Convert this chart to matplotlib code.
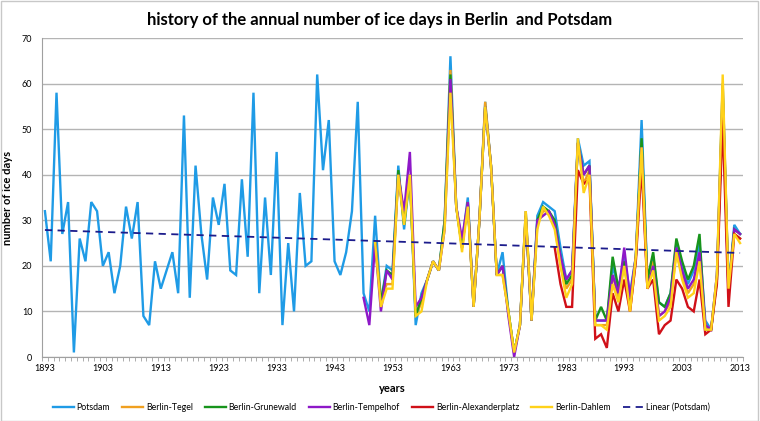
import numpy as np
import matplotlib.pyplot as plt
from matplotlib.patches import Rectangle

plt.rcParams['font.family'] = ['Lato', 'DejaVu Sans']

# annual number of ice days
potsdam_years = np.arange(1893, 2014)
potsdam = [32, 21, 58, 27, 34, 1, 26, 21, 34, 32,
           20, 23, 14, 20, 33, 26, 34, 9, 7, 21,
           15, 19, 23, 14, 53, 13, 42, 27, 17, 35,
           29, 38, 19, 18, 39, 22, 58, 14, 35, 18,
           45, 7, 25, 10, 36, 20, 21, 62, 41, 52,
           21, 18, 23, 32, 56, 14, 10, 31, 12, 20,
           19, 42, 28, 40, 7, 14, 17, 21, 19, 30,
           66, 33, 25, 35, 11, 30, 56, 42, 18, 23,
           10, 1, 7, 32, 8, 31, 34, 33, 32, 24,
           17, 19, 48, 42, 43, 8, 8, 8, 20, 15,
           22, 14, 22, 52, 17, 22, 12, 11, 14, 25,
           20, 16, 19, 25, 8, 6, 18, 60, 15, 29,
           27]

berlin_years = np.arange(1950, 2014)
tegel = [25, 13, 16, 16, 40, 30, 40, 9, 12, 17,
         21, 19, 29, 63, 33, 24, 34, 11, 30, 56,
         42, 18, 18, 10, 1, 7, 32, 8, 29, 32,
         32, 29, 20, 15, 17, 47, 38, 41, 7, 7,
         7, 18, 13, 21, 10, 21, 47, 15, 21, 9,
         10, 12, 23, 18, 14, 16, 22, 7, 6, 17,
         60, 15, 27, 26]
grunewald = [25, 12, 19, 18, 41, 29, 40, 9, 13, 17,
             21, 19, 30, 62, 33, 24, 34, 11, 30, 55,
             42, 18, 20, 10, 1, 7, 31, 8, 30, 33,
             32, 30, 22, 16, 18, 47, 40, 42, 8, 11,
             8, 22, 15, 21, 11, 22, 48, 17, 23, 12,
             11, 14, 26, 21, 17, 20, 27, 6, 6, 17,
             58, 15, 28, 27]
dahlem = [25, 11, 15, 15, 40, 29, 40, 9, 10, 17,
          21, 19, 28, 58, 33, 23, 33, 11, 30, 55,
          42, 18, 18, 10, 1, 7, 32, 8, 28, 33,
          31, 28, 20, 13, 16, 48, 36, 40, 7, 7,
          6, 16, 12, 20, 10, 22, 46, 15, 19, 8,
          9, 11, 23, 17, 13, 14, 21, 6, 6, 18,
          62, 15, 27, 25]

tempelhof_years = np.arange(1948, 2014)
tempelhof = [13, 7, 25, 10, 19, 17, 40, 32, 45, 11,
             13, 17, 21, 19, 28, 61, 33, 26, 34, 11,
             30, 55, 42, 18, 20, 9, 0, 7, 31, 8,
             30, 31, 32, 29, 22, 17, 19, 47, 40, 42,
             8, 8, 8, 18, 14, 24, 13, 22, 46, 15,
             20, 9, 10, 13, 24, 19, 15, 17, 23, 7,
             6, 18, 57, 14, 28, 27]

alex_years = np.arange(1981, 2014)
alexanderplatz = [24, 16, 11, 11, 41, 38, 39, 4, 5, 2,
                  14, 10, 17, 10, 21, 42, 15, 17, 5, 7,
                  8, 17, 15, 11, 10, 17, 5, 6, 16, 52,
                  11, 27, 26]

series = [
    ('Potsdam', potsdam_years, potsdam, '#1f9be6'),
    ('Berlin-Tegel', berlin_years, tegel, '#f0a020'),
    ('Berlin-Grunewald', berlin_years, grunewald, '#17941c'),
    ('Berlin-Tempelhof', tempelhof_years, tempelhof, '#8e18c8'),
    ('Berlin-Alexanderplatz', alex_years, alexanderplatz, '#d01018'),
    ('Berlin-Dahlem', berlin_years, dahlem, '#ffd21a'),
]

fig = plt.figure(figsize=(7.6, 4.21), dpi=100)
ax = fig.add_axes([0.0553, 0.152, 0.9223, 0.7577])

for name, yrs, vals, col in series:
    ax.plot(yrs, vals, color=col, lw=1.7, label=name, solid_joinstyle='miter')

# linear trend of Potsdam
k, d = np.polyfit(potsdam_years, potsdam, 1)
ax.plot(potsdam_years, k * potsdam_years + d, color='#1c1c8c', lw=1.3,
        ls=(0, (4, 3)), label='Linear (Potsdam)')

ax.set_xlim(1892.5, 2013.5)
ax.set_ylim(0, 70)
ax.set_yticks(range(0, 71, 10))
ax.set_xticks(range(1893, 2014, 10))
ax.set_xticks(np.arange(1892.5, 2014, 1), minor=True)
ax.tick_params(axis='x', which='major', length=0, labelsize=6.5, pad=5)
ax.tick_params(axis='x', which='minor', length=3, color='#a0a0a0')
ax.tick_params(axis='y', length=0, labelsize=6.5, pad=7)
ax.grid(axis='y', color='#b4b4b4', lw=1)
ax.set_axisbelow(True)
for s in ['top', 'right']:
    ax.spines[s].set_visible(False)
for s in ['left', 'bottom']:
    ax.spines[s].set_color('#a0a0a0')

ax.set_xlabel('years', fontsize=8, fontweight='bold', labelpad=7)
ax.set_ylabel('number of ice days', fontsize=8, fontweight='bold', labelpad=6)
fig.suptitle('history of the annual number of ice days in Berlin  and Potsdam',
             fontsize=12, fontweight='bold', y=0.972)

fig.legend(loc='center', bbox_to_anchor=(0.502, 0.033), ncol=7, frameon=False,
           fontsize=6.3, handlelength=2.4, columnspacing=1.4, handletextpad=0.3)

fig.patches.append(Rectangle((0.001, 0.001), 0.997, 0.997, transform=fig.transFigure,
                             fill=False, edgecolor='#c8c8c8', lw=1))

fig.savefig('out.png', dpi=100)
